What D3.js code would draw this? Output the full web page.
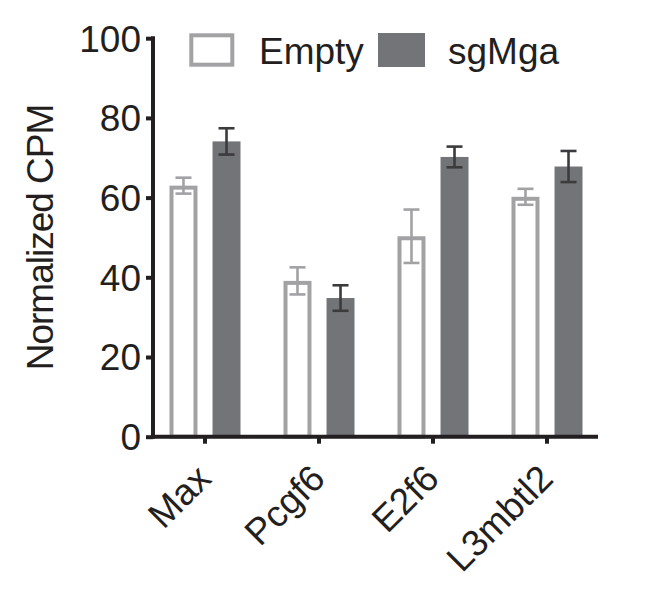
<!DOCTYPE html>
<html>
<head>
<meta charset="utf-8">
<script src="https://cdn.jsdelivr.net/npm/d3@7"></script>
<style>
  html, body { margin: 0; padding: 0; background: #fff; }
  svg text { font-family: "Liberation Sans", Arial, Helvetica, sans-serif; fill: #231f20; }
</style>
</head>
<body>
<svg id="chart" width="657" height="599"></svg>
<script>
const categories = ["Max", "Pcgf6", "E2f6", "L3mbtl2"];
const seriesNames = ["Empty", "sgMga"];
const emptyValues = [63.0, 39.1, 50.3, 60.2];
const emptyErrors = [2.0, 3.4, 6.7, 2.0];
const sgMgaValues = [74.1, 34.8, 70.2, 67.8];
const sgMgaErrors = [3.3, 3.2, 2.6, 3.9];
const yTicks = [0, 20, 40, 60, 80, 100];
const yLabel = "Normalized CPM";

const colors = {
  emptyStroke: "#a2a2a5",
  emptyErr: "#a2a2a5",
  filled: "#737478",
  filledErr: "#3b3b3d",
  axis: "#231f20"
};

const svg = d3.select("#chart");
const y = d3.scaleLinear().domain([0, 100]).range([436.7, 38.2]);
const x0 = d3.scaleBand().domain(categories).range([148, 604]).paddingInner(0).paddingOuter(0);
const x1 = d3.scaleBand().domain(seriesNames).range([21.5, x0.bandwidth() - 21.5]).paddingInner(0.35).paddingOuter(0);
const bw = x1.bandwidth();

const data = categories.map((c, i) => ({
  cat: c,
  vals: [
    { s: "Empty", v: emptyValues[i], e: emptyErrors[i] },
    { s: "sgMga", v: sgMgaValues[i], e: sgMgaErrors[i] }
  ]
}));

const groups = svg.append("g").selectAll("g").data(data).join("g")
  .attr("transform", d => `translate(${x0(d.cat)},0)`);

// Empty bars (outlined)
const sw = 4;
groups.append("rect")
  .attr("x", d => x1("Empty") + sw / 2)
  .attr("width", bw - sw)
  .attr("y", d => y(d.vals[0].v) + sw / 2)
  .attr("height", d => y(0) - y(d.vals[0].v) - sw / 2)
  .attr("fill", "#fff")
  .attr("stroke", colors.emptyStroke)
  .attr("stroke-width", sw);

// sgMga bars (filled)
groups.append("rect")
  .attr("x", d => x1("sgMga"))
  .attr("width", bw)
  .attr("y", d => y(d.vals[1].v))
  .attr("height", d => y(0) - y(d.vals[1].v))
  .attr("fill", colors.filled);

// Error bars
const capW = 16;
function errBar(sel, idx, color) {
  const g = sel.append("g").attr("stroke", color).attr("stroke-width", 2.6).attr("fill", "none");
  const cx = d => x1(seriesNames[idx]) + bw / 2;
  g.append("line").attr("x1", cx).attr("x2", cx)
    .attr("y1", d => y(d.vals[idx].v + d.vals[idx].e))
    .attr("y2", d => y(d.vals[idx].v - d.vals[idx].e));
  g.append("line").attr("x1", d => cx(d) - capW / 2).attr("x2", d => cx(d) + capW / 2)
    .attr("y1", d => y(d.vals[idx].v + d.vals[idx].e))
    .attr("y2", d => y(d.vals[idx].v + d.vals[idx].e));
  g.append("line").attr("x1", d => cx(d) - capW / 2).attr("x2", d => cx(d) + capW / 2)
    .attr("y1", d => y(d.vals[idx].v - d.vals[idx].e))
    .attr("y2", d => y(d.vals[idx].v - d.vals[idx].e));
}
errBar(groups, 0, colors.emptyErr);
errBar(groups, 1, colors.filledErr);

// Y axis
const yAxis = d3.axisLeft(y).tickValues(yTicks).tickSize(7).tickSizeOuter(0).tickPadding(5);
const yg = svg.append("g").attr("transform", "translate(153,0)").call(yAxis);
yg.select(".domain").remove();
yg.selectAll(".tick line").attr("stroke", colors.axis).attr("stroke-width", 4);
yg.selectAll(".tick text").attr("font-size", 37).attr("fill", colors.axis).attr("dy", "0.35em");
yg.append("line").attr("x1", 0).attr("x2", 0).attr("y1", y(0) + 2).attr("y2", y(100) - 2)
  .attr("stroke", colors.axis).attr("stroke-width", 4);

// X axis
const xAxis = d3.axisBottom(x0).tickSize(7).tickSizeOuter(0).tickFormat("");
const xg = svg.append("g").attr("transform", `translate(0,${y(0)})`).call(xAxis);
xg.select(".domain").remove();
xg.selectAll(".tick line").attr("stroke", colors.axis).attr("stroke-width", 4);
xg.append("line").attr("x1", 151).attr("x2", 598).attr("y1", 0).attr("y2", 0)
  .attr("stroke", colors.axis).attr("stroke-width", 4);

// X labels rotated
svg.append("g").selectAll("text").data(categories).join("text")
  .attr("transform", d => `translate(${x0(d) + x0.bandwidth() / 2 + 8},${y(0) + 44}) rotate(-45)`)
  .attr("text-anchor", "end")
  .attr("font-size", 37)
  .text(d => d);

// Y label
svg.append("text")
  .attr("transform", `translate(53,${(105 + 370) / 2}) rotate(-90)`)
  .attr("text-anchor", "middle")
  .attr("font-size", 37)
  .attr("letter-spacing", -1)
  .text(yLabel);

// Legend
const legend = svg.append("g");
legend.append("rect").attr("x", 191.3).attr("y", 35.3).attr("width", 41).attr("height", 29.4)
  .attr("fill", "#fff").attr("stroke", colors.emptyStroke).attr("stroke-width", 4);
legend.append("text").attr("x", 259).attr("y", 64.3).attr("font-size", 37).text(seriesNames[0]);
legend.append("rect").attr("x", 378).attr("y", 33).attr("width", 47).attr("height", 34)
  .attr("fill", colors.filled);
legend.append("text").attr("x", 448).attr("y", 64.3).attr("font-size", 37).text(seriesNames[1]);
</script>
</body>
</html>
